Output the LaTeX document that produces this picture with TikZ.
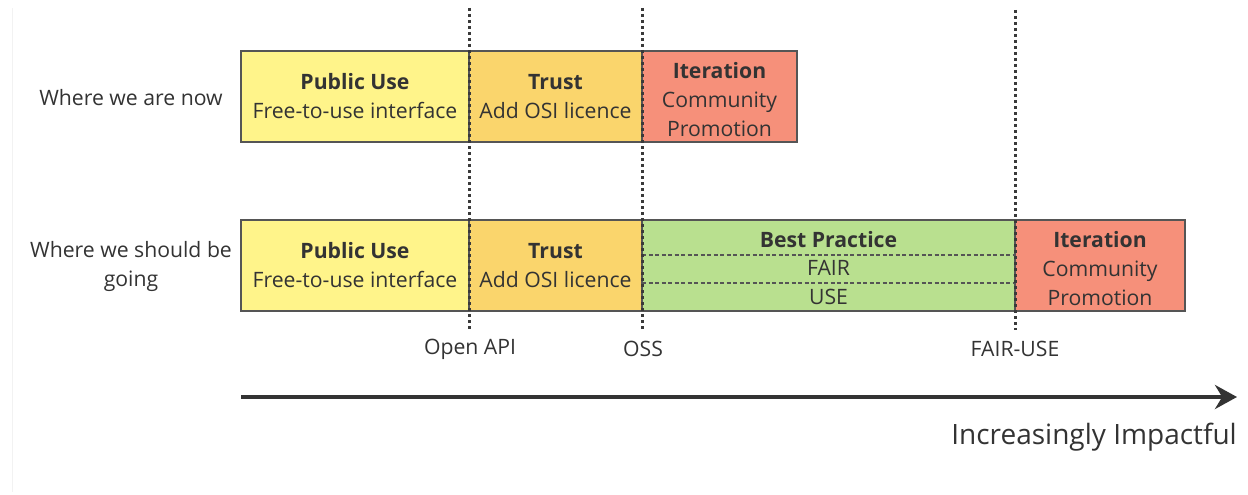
\documentclass[tikz,border=0pt]{standalone}
\usepackage{fontspec}
\setmainfont{Open Sans}
\usetikzlibrary{arrows.meta,calc}
\definecolor{txt}{HTML}{333333}
\definecolor{dotc}{HTML}{3A3A3A}
\definecolor{bord}{HTML}{555555}
\definecolor{cyel}{HTML}{FFF48A}
\definecolor{corg}{HTML}{FAD56C}
\definecolor{cred}{HTML}{F6907A}
\definecolor{cgrn}{HTML}{B9E08F}
\definecolor{faint}{HTML}{F2F2F2}
\tikzset{
  boxst/.style={draw=bord, line width=1.2pt, minimum height=91pt, inner sep=0pt, outer sep=0pt, anchor=north west, align=center},
  lbl/.style={align=center, inner sep=0pt},
  vdots/.style={draw=dotc, line width=3pt, dash pattern=on 3pt off 3pt},
  inner/.style={draw=bord, line width=1.1pt, dash pattern=on 4pt off 2.5pt},
}
\begin{document}
\begin{tikzpicture}[x=1pt,y=-1pt, font=\fontsize{21.2}{29}\selectfont, text=txt]
\useasboundingbox (0,0) rectangle (1248,495);
\coordinate (f1) at (12,8);
\coordinate (f2) at (12,492);
\draw[faint, line width=1pt] (f1) -- (f2);

% top row
\node[lbl] (L1) at (131,98) {Where we are now};
\node[boxst, fill=cyel, minimum width=228pt] (PU1) at (241,51) {\textbf{Public Use}\\Free-to-use interface};
\node[boxst, fill=corg, minimum width=173pt] (T1) at (469,51) {\textbf{Trust}\\Add OSI licence};
\node[boxst, fill=cred, minimum width=155pt] (I1) at (642,51) {};
\node[lbl] (I1t) at ([yshift=-3.5pt]I1.center) {\textbf{Iteration}\\Community\\Promotion};

% bottom row
\node[lbl] (L2) at (131,266) {Where we should be\\going};
\node[boxst, fill=cyel, minimum width=228pt] (PU2) at (241,220) {\textbf{Public Use}\\Free-to-use interface};
\node[boxst, fill=corg, minimum width=173pt] (T2) at (469,220) {\textbf{Trust}\\Add OSI licence};
\node[boxst, fill=cgrn, minimum width=373pt] (BP) at (642,220) {};
\node[boxst, fill=cred, minimum width=170pt] (I2) at (1015,220) {};
\node[lbl] (I2t) at ([yshift=-3.5pt]I2.center) {\textbf{Iteration}\\Community\\Promotion};
\draw[inner] ($(BP.north west)+(0,35)$) -- ($(BP.north east)+(0,35)$);
\draw[inner] ($(BP.north west)+(0,63)$) -- ($(BP.north east)+(0,63)$);
\node[lbl] (BPt) at ($(BP.north)+(0,20)$) {\textbf{Best Practice}};
\node[lbl] (FA) at ($(BP.north)+(0,48)$) {FAIR};
\node[lbl] (US) at ($(BP.north)+(0,77)$) {USE};

% dotted verticals
\coordinate (v1t) at (469,8);  \coordinate (v1b) at (469,330);
\coordinate (v2t) at (642,8);  \coordinate (v2b) at (642,330);
\coordinate (v3t) at (1015,10); \coordinate (v3b) at (1015,330);
\draw[vdots] (v1t) -- (v1b);
\draw[vdots] (v2t) -- (v2b);
\draw[vdots] (v3t) -- (v3b);

\node[lbl] (OA) at (470,349) {Open API};
\node[lbl] (OS) at (643,349) {OSS};
\node[lbl] (FU) at (1015,349) {FAIR-USE};

% arrow
\coordinate (a1) at (241,397);
\coordinate (a2) at (1237,397);
\draw[draw=txt, line width=4pt, -{Stealth[length=22pt,width=24pt]}] (a1) -- (a2);
\node[lbl, anchor=east, font=\fontsize{28}{29}\selectfont] (II) at (1237,437) {Increasingly Impactful};
\end{tikzpicture}
\end{document}
